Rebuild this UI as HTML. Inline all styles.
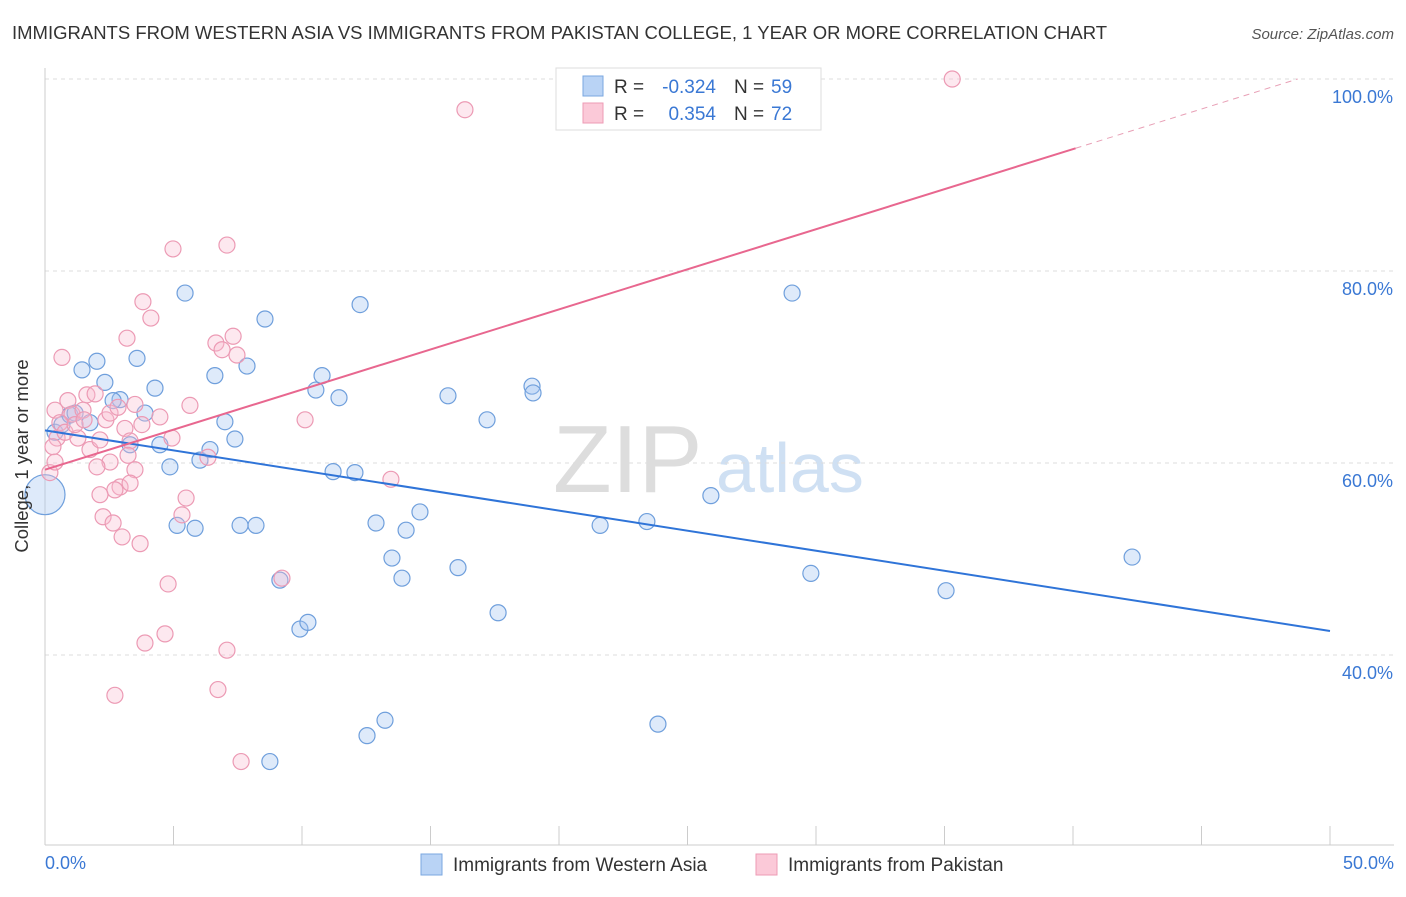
<!DOCTYPE html>
<html><head><meta charset="utf-8"><style>
body{margin:0;background:#fff;font-family:"Liberation Sans",sans-serif;}
svg text{font-family:"Liberation Sans",sans-serif;}
</style></head><body>
<svg id="chart" width="1406" height="892" viewBox="0 0 1406 892">
<text x="12" y="39" font-size="18.5" fill="#333">IMMIGRANTS FROM WESTERN ASIA VS IMMIGRANTS FROM PAKISTAN COLLEGE, 1 YEAR OR MORE CORRELATION CHART</text>
<text x="1394" y="39" font-size="15" fill="#555" font-style="italic" text-anchor="end">Source: ZipAtlas.com</text>
<text x="553" y="492" font-size="96" fill="#ddd" font-family="Liberation Serif">ZIP</text>
<text x="716" y="492" font-size="70" fill="#cfe0f3">atlas</text>
<g id="grid"></g>
<g id="axes"></g>
<g id="points"></g>
<g id="lines"></g>
<text transform="translate(28,456) rotate(-90)" font-size="18.5" fill="#333" text-anchor="middle">College, 1 year or more</text>
<text x="45" y="869" font-size="18" fill="#3a78d4">0.0%</text>
<text x="1394" y="869" font-size="18" fill="#3a78d4" text-anchor="end">50.0%</text>
<g>
<rect x="556" y="68" width="265" height="62" fill="#fff" stroke="#ddd"/>
<rect x="583" y="76" width="20" height="20" fill="#b9d3f5" stroke="#7aa7e0"/>
<rect x="583" y="103" width="20" height="20" fill="#fbc9d8" stroke="#ee9bb5"/>
<text x="614" y="93" font-size="19" fill="#333">R =</text>
<text x="716" y="93" font-size="19" fill="#3a78d4" text-anchor="end">-0.324</text>
<text x="734" y="93" font-size="19" fill="#333">N =</text>
<text x="771" y="93" font-size="19" fill="#3a78d4">59</text>
<text x="614" y="120" font-size="19" fill="#333">R =</text>
<text x="716" y="120" font-size="19" fill="#3a78d4" text-anchor="end">0.354</text>
<text x="734" y="120" font-size="19" fill="#333">N =</text>
<text x="771" y="120" font-size="19" fill="#3a78d4">72</text>
</g>
<g>
<rect x="421" y="854" width="21" height="21" fill="#b9d3f5" stroke="#7aa7e0"/>
<text x="453" y="871" font-size="19" fill="#333">Immigrants from Western Asia</text>
<rect x="756" y="854" width="21" height="21" fill="#fbc9d8" stroke="#ee9bb5"/>
<text x="788" y="871" font-size="19" fill="#333">Immigrants from Pakistan</text>
</g>
</svg>
<script>
const yTicks=[40,60,80,100];
const xTicks=[0,5,10,15,20,25,30,35,40,45,50];
const blueX=[0,0.39,0.66,0.97,1.17,1.75,2.02,1.44,2.33,2.92,2.65,3.58,4.28,3.89,3.31,4.47,4.86,5.45,5.14,5.84,6.03,6.42,6.61,7.0,7.39,7.86,8.56,7.59,8.21,9.14,9.92,10.23,10.54,10.78,11.44,11.21,12.06,12.26,12.88,13.5,13.89,14.05,14.59,15.68,16.07,17.2,17.63,18.95,18.99,12.53,13.23,8.75,21.6,23.42,23.85,25.91,29.07,29.8,35.06,42.3];
const blueY=[56.7,63.2,64.0,65.0,65.2,64.2,70.6,69.7,68.4,66.6,66.5,70.9,67.8,65.2,61.9,61.9,59.6,77.7,53.5,53.2,60.3,61.4,69.1,64.3,62.5,70.1,75.0,53.5,53.5,47.8,42.7,43.4,67.6,69.1,66.8,59.1,59.0,76.5,53.75,50.1,48.0,53.0,54.9,67.0,49.1,64.5,44.4,68.0,67.3,31.6,33.2,28.9,53.5,53.9,32.8,56.6,77.7,48.5,46.7,50.2];
const pinkX=[35.3,16.34,4.98,7.08,3.81,4.12,3.19,0.66,6.65,7.32,7.47,6.89,0.39,0.89,1.05,1.63,1.95,1.48,0.58,0.47,0.31,0.19,0.78,1.28,1.75,2.14,2.37,2.53,2.84,3.5,3.77,3.11,3.31,3.23,2.53,3.5,2.02,2.92,2.72,3.31,2.14,2.26,2.65,3.0,3.7,5.49,5.33,4.47,4.94,5.64,6.34,10.12,13.46,9.22,4.79,4.67,3.89,7.08,6.73,2.72,7.63,0.39,1.17,1.52];
const pinkY=[100,96.8,82.3,82.7,76.8,75.1,73.0,71.0,72.5,73.2,71.25,71.8,65.5,66.5,65.1,67.1,67.2,65.5,64.2,62.6,61.7,59.0,63.2,62.6,61.4,62.4,64.5,65.2,65.8,66.1,64.0,63.6,62.3,60.8,60.1,59.3,59.6,57.5,57.2,57.9,56.7,54.4,53.75,52.3,51.6,56.35,54.6,64.8,62.6,66.0,60.6,64.5,58.3,48.0,47.4,42.2,41.25,40.5,36.4,35.8,28.9,60.1,64.0,64.5];
const blueTrend=[63.4,42.5];
const pinkTrend=[59.3,0.835];
const NS='http://www.w3.org/2000/svg';
const xs=v=>45+v*25.7, ys=v=>79+(100-v)*9.6;
function mk(t,a,p){const e=document.createElementNS(NS,t);for(const k in a)e.setAttribute(k,a[k]);document.getElementById(p).appendChild(e);return e;}
yTicks.forEach(t=>{
 const g=mk('line',{x1:45,x2:1394,y1:ys(t),y2:ys(t),stroke:'#ddd','stroke-dasharray':'4,4'},'grid');
 
 
 const l=mk('text',{x:1393,y:ys(t)+24,'font-size':18,fill:'#3a78d4','text-anchor':'end'},'grid');
 l.textContent=t.toFixed(1)+'%';
 
 
});
const ax=mk('line',{x1:45,x2:45,y1:68,y2:845,stroke:'#ccc'},'axes');


const bx=mk('line',{x1:45,x2:1394,y1:845,y2:845,stroke:'#ccc'},'axes');


xTicks.forEach(t=>{
 const k=mk('line',{x1:xs(t),x2:xs(t),y1:826,y2:845,stroke:'#ccc'},'axes');
 
 
});
blueX.forEach((x,i)=>{
 const c=mk('circle',{cx:xs(x),cy:ys(blueY[i]),r:i===0?20:8,fill:'rgba(160,196,240,0.35)',stroke:'#6f9fdc','stroke-width':1.2},'points');
 
 
});
pinkX.forEach((x,i)=>{
 const c=mk('circle',{cx:xs(x),cy:ys(pinkY[i]),r:8,fill:'rgba(248,190,208,0.35)',stroke:'#ec9ab4','stroke-width':1.2},'points');
 
 
});
const bl=mk('line',{x1:xs(0),y1:ys(blueTrend[0]),x2:xs(50),y2:ys(blueTrend[1]),stroke:'#2f74d8','stroke-width':2},'lines');


const xe=40.1, xd=(100-pinkTrend[0])/pinkTrend[1];
const pl=mk('line',{x1:xs(0),y1:ys(pinkTrend[0]),x2:xs(xe),y2:ys(pinkTrend[0]+pinkTrend[1]*xe),stroke:'#e8678f','stroke-width':2},'lines');


const pd=mk('line',{x1:xs(xe),y1:ys(pinkTrend[0]+pinkTrend[1]*xe),x2:xs(xd),y2:ys(100),stroke:'#e8a0b6','stroke-width':1,'stroke-dasharray':'6,5'},'lines');


</script>
</body></html>
